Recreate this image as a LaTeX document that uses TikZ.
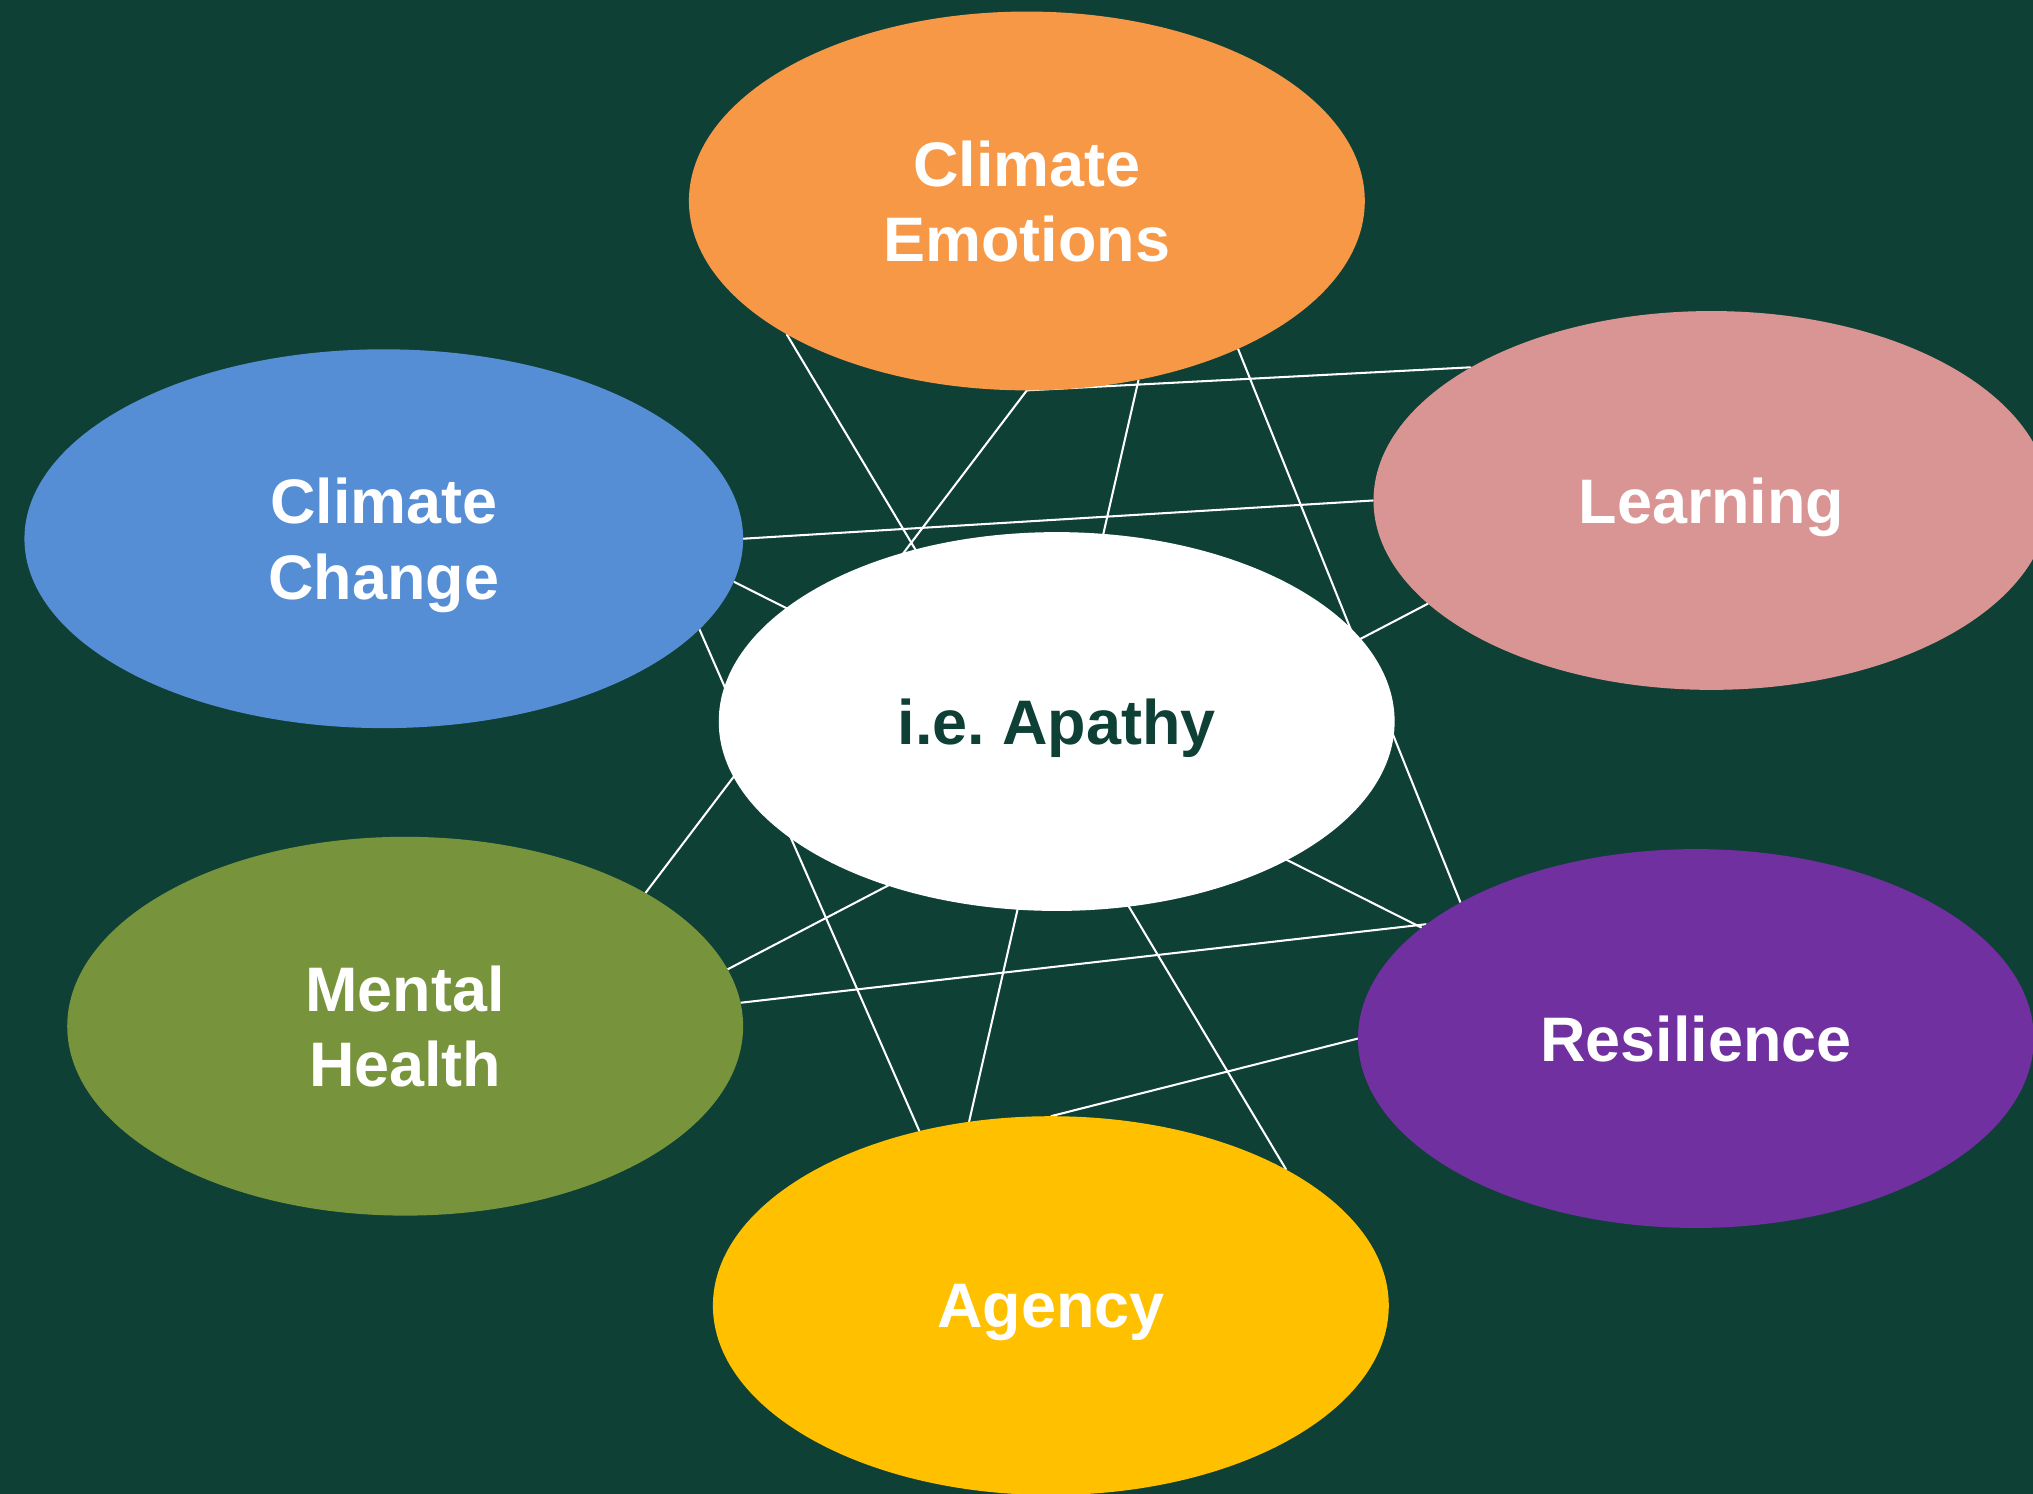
\documentclass[tikz,border=0pt]{standalone}
\usepackage{fontspec}
\setmainfont{Liberation Sans}
\usetikzlibrary{shapes.geometric}

\definecolor{bggreen}{HTML}{0E4036}
\definecolor{emoorange}{HTML}{F79847}
\definecolor{lrnpink}{HTML}{D99594}
\definecolor{ccblue}{HTML}{558ED5}
\definecolor{mholive}{HTML}{77933C}
\definecolor{respurple}{HTML}{7030A0}
\definecolor{agyyellow}{HTML}{FFC000}

\pgfdeclarelayer{canvas}
\pgfdeclarelayer{links}
\pgfsetlayers{canvas,links,main}

\tikzset{
  bubble/.style={ellipse, minimum width=5.21cm, minimum height=2.92cm,
    inner sep=0pt, outer sep=0pt, align=center, text=white, text depth=0pt,
    font=\bfseries\fontsize{13.8}{16.5}\selectfont},
  link/.style={white, line width=0.45pt}
}

\begin{document}
\begin{tikzpicture}[x=0.01cm, y=-0.01cm]
  \begin{pgfonlayer}{canvas}
    \fill[bggreen] (0,0) rectangle (1568,1152);
  \end{pgfonlayer}
  \useasboundingbox (0,0) rectangle (1568,1152);

  % the seven bubbles
  \node[bubble, fill=emoorange] (emo) at (792,155) {Climate\\Emotions};
  \node[bubble, fill=lrnpink] (lrn) at (1320,386) {Learning};
  \node[bubble, fill=ccblue, minimum width=5.54cm] (cc) at (296,415.5) {Climate\\Change};
  \node[bubble, fill=white, text=bggreen] (apa) at (815,556.5) {i.e.\ Apathy};
  \node[bubble, fill=mholive] (mh) at (312.5,791.5) {Mental\\Health};
  \node[bubble, fill=respurple] (res) at (1308,801) {Resilience};
  \node[bubble, fill=agyyellow] (agy) at (810.5,1007) {Agency};

  % links, behind the bubbles
  \begin{pgfonlayer}{links}
    \draw[link] (emo.270) -- (mh.29);
    \draw[link] (emo.209) -- (agy.30);
    \draw[link] (emo.302) -- (agy.114);
    \draw[link] (emo.325) -- (res.150);
    \draw[link] (emo.270) -- (lrn.151);
    \draw[link] (cc.0) -- (lrn.180);
    \draw[link] (cc.353) -- (res.158);
    \draw[link] (cc.344) -- (agy.127);
    \draw[link] (lrn.200) -- (mh.10);
    \draw[link] (mh.4) -- (res.157);
    \draw[link] (agy.90) -- (res.180);
  \end{pgfonlayer}
\end{tikzpicture}
\end{document}
